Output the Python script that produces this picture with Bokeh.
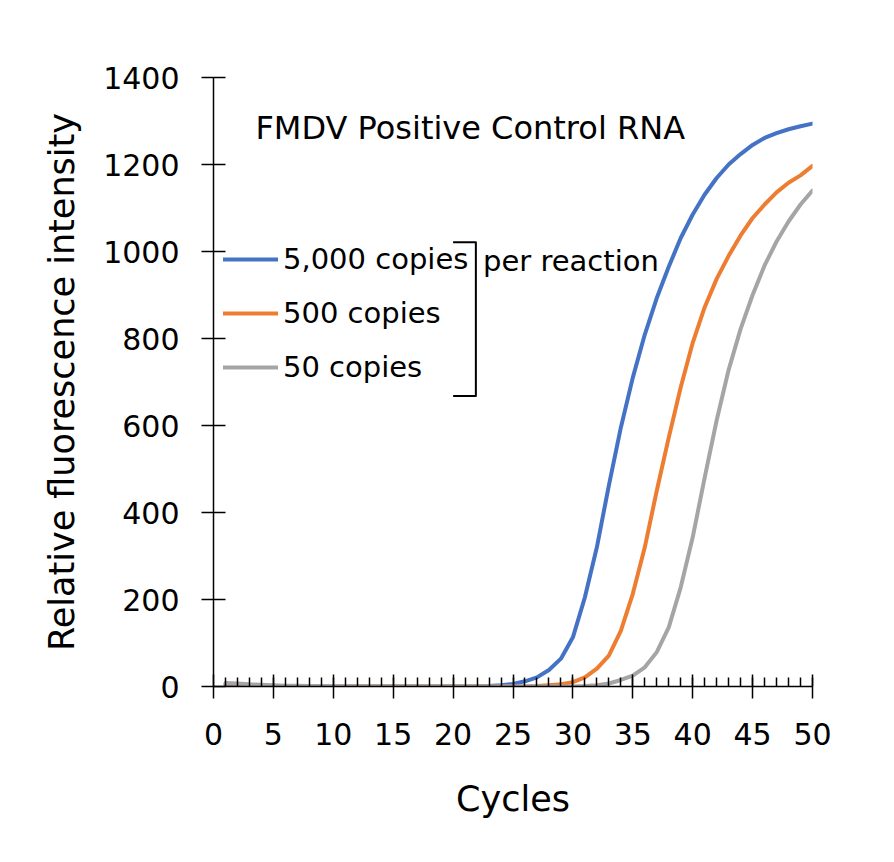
from bokeh.plotting import figure
from bokeh.models import Range1d, Label, Legend, LegendItem, FixedTicker
from bokeh.embed import file_html
from bokeh.resources import INLINE

# ---- data ----
cycles = list(range(1, 51))
copies_5000 = [5, 3, 1, -1, -2, -2, -1, 0, 0, 0,
               0, 0, 0, 0, 0, 0, 0, 0, 0, 0,
               0, 0, 1, 3, 6, 12, 21, 38, 64, 113,
               205, 320, 462, 595, 710, 809, 893, 965, 1031, 1085,
               1131, 1169, 1200, 1224, 1245, 1261, 1272, 1281, 1288, 1294]
copies_500 = [-2, -3, -3, -3, -2, -2, -2, -1, -1, -1,
              0, 0, 0, 0, 0, 0, 0, 0, 0, 0,
              0, 0, 0, 0, 0, 0, 1, 3, 5, 10,
              21, 41, 71, 128, 213, 320, 450, 572, 688, 790,
              872, 937, 990, 1037, 1077, 1108, 1136, 1158, 1175, 1197]
copies_50 = [8, 7, 5, 4, 3, 2, 2, 1, 1, 0,
             0, 0, 0, 0, 0, 0, 0, 0, 0, 0,
             0, 0, 0, 0, 0, 0, 0, 0, 0, 0,
             1, 3, 7, 15, 25, 44, 79, 136, 228, 343,
             480, 612, 728, 822, 900, 968, 1023, 1069, 1108, 1140]
series_labels = ["5,000 copies", "500 copies", "50 copies"]
series_colors = ["#4472C4", "#ED7D31", "#A5A5A5"]
x_ticks = list(range(0, 51, 5))
y_ticks = list(range(0, 1401, 200))
title_text = "FMDV Positive Control RNA"
bracket_text = "per reaction"
x_title = "Cycles"
y_title = "Relative fluorescence intensity"

# annotation placement (data units)
bracket_x = [20.0, 21.9, 21.9, 20.0]
bracket_y = [1021, 1021, 668, 668]

FONT = "DejaVu Sans"

p = figure(width=894, height=862, output_backend="svg", toolbar_location=None,
           x_range=Range1d(0, 50), y_range=Range1d(0, 1400),
           min_border_left=213, min_border_right=82,
           min_border_top=77, min_border_bottom=176)
p.outline_line_color = None
p.grid.visible = False
p.background_fill_color = "white"
p.border_fill_color = "white"

renderers = []
for ys, col in zip([copies_5000, copies_500, copies_50], series_colors):
    r = p.line(cycles, ys, line_color=col, line_width=4, line_cap="round", line_join="round")
    renderers.append(r)

# axes
xa = p.xaxis[0]
xa.ticker = FixedTicker(ticks=x_ticks, minor_ticks=cycles)
ya = p.yaxis[0]
ya.ticker = FixedTicker(ticks=y_ticks)
for ax in (xa, ya):
    ax.axis_line_width = 1.5
    ax.axis_line_color = "black"
    ax.major_tick_line_width = 1.5
    ax.major_tick_line_color = "black"
    ax.major_tick_in = 12
    ax.major_tick_out = 12
    ax.major_label_text_font = FONT
    ax.major_label_text_font_size = "30px"
    ax.major_label_text_color = "black"
    ax.axis_label_text_font = FONT
    ax.axis_label_text_font_size = "35px"
    ax.axis_label_text_font_style = "normal"
    ax.axis_label_text_color = "black"
xa.minor_tick_in = 9
xa.minor_tick_out = 0
xa.minor_tick_line_width = 1.5
xa.minor_tick_line_color = "black"
ya.minor_tick_line_color = None
xa.major_label_standoff = 24
ya.major_label_standoff = 22
xa.axis_label = x_title
ya.axis_label = y_title
xa.axis_label_standoff = 31
ya.axis_label_standoff = 18

# bracket
p.line(bracket_x, bracket_y, line_color="black", line_width=2, line_join="round")

legend = Legend(items=[LegendItem(label=l, renderers=[r]) for l, r in zip(series_labels, renderers)],
                location=(10, 302), orientation="vertical",
                label_text_font=FONT, label_text_font_size="29px", label_text_color="black",
                glyph_width=55, glyph_height=34, label_height=34, label_standoff=5,
                spacing=20, padding=0, margin=0, border_line_color=None,
                background_fill_alpha=0)
p.add_layout(legend)

p.add_layout(Label(x=3.5, y=1283, text=title_text, text_font=FONT, text_font_size="32px",
                   text_color="black", text_baseline="alphabetic"))
p.add_layout(Label(x=22.5, y=978, text=bracket_text, text_font=FONT, text_font_size="29px",
                   text_color="black", text_baseline="alphabetic"))

open("out.html", "w").write(file_html(p, INLINE))
